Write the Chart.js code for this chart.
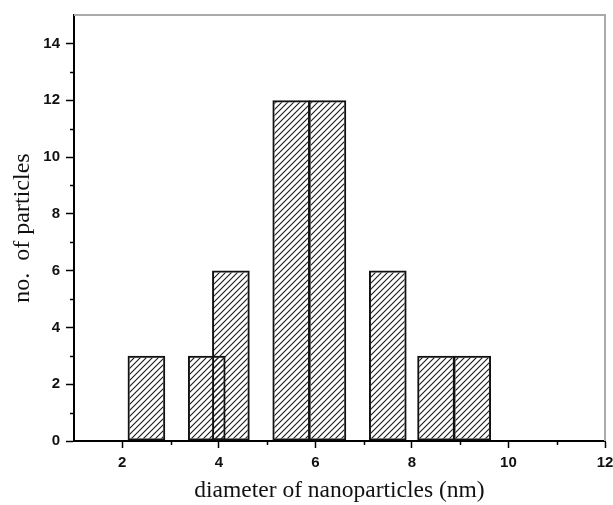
<!DOCTYPE html>
<html>
<head>
<meta charset="utf-8">
<script src="https://cdn.jsdelivr.net/npm/chart.js@4"></script>
<style>
  html, body { margin: 0; padding: 0; background: #fff; }
  #wrap { width: 613px; height: 505px; }
</style>
</head>
<body>
<div id="wrap"><canvas id="histChart"></canvas></div>
<script>
// bin centres (nm), counts and bin width
const binCenters = [2.5, 3.75, 4.25, 5.5, 6.25, 7.5, 8.5, 9.25];
const counts = [3, 3, 6, 12, 12, 6, 3, 3];
const binWidth = 0.78;

// axis ticks
const xTicks = [2, 4, 6, 8, 10, 12];
const yTicks = [0, 2, 4, 6, 8, 10, 12, 14];
const xMinor = [3, 5, 7, 9, 11];
const yMinor = [1, 3, 5, 7, 9, 11, 13];

// bar width relative to the closest pair of centres (that's what Chart.js sizes from)
let minGap = Infinity;
for (let i = 1; i < binCenters.length; i++) {
    minGap = Math.min(minGap, binCenters[i] - binCenters[i - 1]);
}

// diagonal hatch fill
function makeHatch() {
    const size = 6;
    const c = document.createElement('canvas');
    c.width = size;
    c.height = size;
    const g = c.getContext('2d');
    g.strokeStyle = '#1a1a1a';
    g.lineWidth = 1.1;
    g.beginPath();
    g.moveTo(0, size);
    g.lineTo(size, 0);
    g.moveTo(-1, 1);
    g.lineTo(1, -1);
    g.moveTo(size - 1, size + 1);
    g.lineTo(size + 1, size - 1);
    g.stroke();
    return g.createPattern(c, 'repeat');
}

// minor ticks plus the grey top/right frame
const frameAndMinor = {
    id: 'frameAndMinor',
    afterDraw(chart) {
        const ctx = chart.ctx;
        const area = chart.chartArea;
        const x = chart.scales.x;
        const y = chart.scales.y;
        ctx.save();
        ctx.strokeStyle = '#aaaaaa';
        ctx.lineWidth = 2;
        ctx.beginPath();
        ctx.moveTo(area.left, area.top);
        ctx.lineTo(area.right, area.top);
        ctx.lineTo(area.right, area.bottom);
        ctx.stroke();

        ctx.strokeStyle = '#000';
        ctx.lineWidth = 1.5;
        ctx.beginPath();
        xMinor.forEach(v => {
            const px = Math.round(x.getPixelForValue(v)) + 0.5;
            ctx.moveTo(px, area.bottom);
            ctx.lineTo(px, area.bottom + 4);
        });
        yMinor.forEach(v => {
            const py = Math.round(y.getPixelForValue(v)) + 0.5;
            ctx.moveTo(area.left, py);
            ctx.lineTo(area.left - 4, py);
        });
        ctx.stroke();
        ctx.restore();
    }
};

const ctx = document.getElementById('histChart').getContext('2d');
new Chart(ctx, {
    type: 'bar',
    data: {
        datasets: [{
            data: binCenters.map((c, i) => ({ x: c, y: counts[i] })),
            backgroundColor: makeHatch(),
            borderColor: '#111',
            borderWidth: 2,
            borderSkipped: false,
            categoryPercentage: 1,
            barPercentage: binWidth / minGap
        }]
    },
    options: {
        responsive: true,
        maintainAspectRatio: false,
        animation: false,
        layout: { padding: { left: 0, top: 8, right: 0, bottom: 0 } },
        plugins: {
            legend: { display: false },
            tooltip: { enabled: false }
        },
        scales: {
            x: {
                type: 'linear',
                min: 1,
                max: 12,
                offset: false,
                afterBuildTicks: axis => { axis.ticks = xTicks.map(v => ({ value: v })); },
                afterFit: axis => {
                    axis.height = 64;
                    axis.paddingRight = 8;
                },
                grid: {
                    offset: false,
                    drawOnChartArea: false,
                    drawTicks: true,
                    tickLength: 7,
                    tickColor: '#000',
                    tickWidth: 1.5
                },
                border: { color: '#000', width: 2 },
                ticks: {
                    color: '#111',
                    padding: 6,
                    font: { family: 'Liberation Sans', size: 15, weight: 'bold' }
                },
                title: {
                    display: true,
                    text: 'diameter of nanoparticles (nm)',
                    color: '#111',
                    padding: { top: 0, bottom: 0 },
                    font: { family: 'Liberation Serif', size: 23.5 }
                }
            },
            y: {
                min: 0,
                max: 15,
                afterBuildTicks: axis => { axis.ticks = yTicks.map(v => ({ value: v })); },
                afterFit: axis => { axis.width = 74; },
                grid: {
                    drawOnChartArea: false,
                    drawTicks: true,
                    tickLength: 8,
                    tickColor: '#000',
                    tickWidth: 1.5
                },
                border: { color: '#000', width: 2 },
                ticks: {
                    color: '#111',
                    padding: 6,
                    font: { family: 'Liberation Sans', size: 15, weight: 'bold' }
                },
                title: {
                    display: true,
                    text: 'no.  of particles',
                    color: '#111',
                    padding: { top: 8, bottom: 4 },
                    font: { family: 'Liberation Serif', size: 24 }
                }
            }
        }
    },
    plugins: [frameAndMinor]
});
</script>
</body>
</html>
